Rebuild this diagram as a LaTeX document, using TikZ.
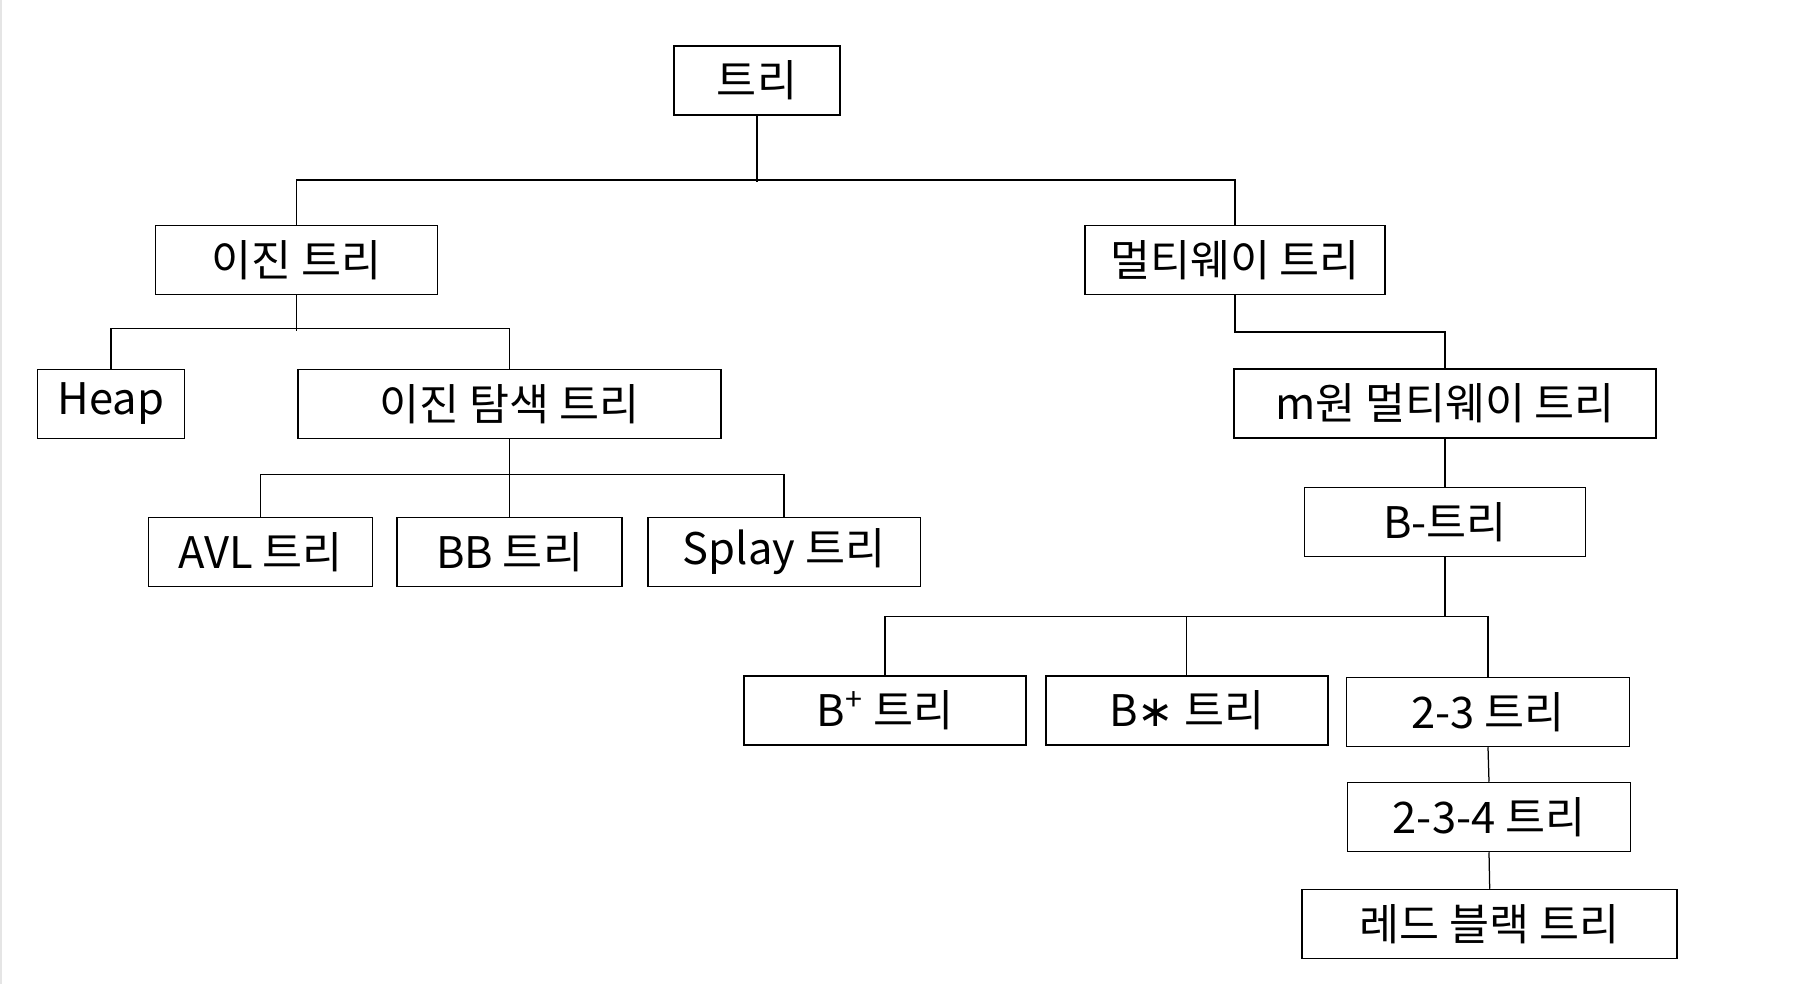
\documentclass[tikz,border=0pt]{standalone}
\usepackage{fontspec}
\setmainfont{Noto Sans CJK KR}
\newfontfamily\dejavu{DejaVu Sans}
\begin{document}
\begin{tikzpicture}[x=0.4pt,y=-0.4pt,
  box/.style={draw=black,line width=0.6pt,minimum height=27.6pt,inner sep=0pt,
    font=\fontsize{17.4}{17.4}\selectfont,fill=white},
  conn/.style={draw=black,line width=0.5pt}]
\useasboundingbox[fill=white] (0,0) rectangle (1820,984);
\draw[gray!20,line width=1pt] (1,0) -- (1,984);
% nodes
\node[box,minimum width=66.4pt]  (root) at (757,80.5) {트리};
\node[box,minimum width=112.8pt] (bin)  at (296.6,260) {이진 트리};
\node[box,minimum width=120pt]   (multi) at (1235,260) {멀티웨이 트리};
\node[box,minimum width=58.6pt]  (heap) at (111,404) {Heap};
\node[box,minimum width=169.2pt] (bst)  at (509.6,404) {이진 탐색 트리};
\node[box,minimum width=168.8pt] (mway) at (1445,403.5) {m원 멀티웨이 트리};
\node[box,minimum width=112.4pt] (btree) at (1445,521.8) {B-트리};
\node[box,minimum width=89.6pt]  (avl)  at (260.6,552) {AVL 트리};
\node[box,minimum width=90pt]    (bb)   at (509.6,552) {BB 트리};
\node[box,minimum width=109pt]   (splay) at (784,552) {Splay 트리};
\node[box,minimum width=112.8pt] (bplus) at (885,710.3) {B\textsuperscript{+} 트리};
\node[box,minimum width=112.8pt] (bstar) at (1186.8,710.3) {B{\dejavu ∗} 트리};
\node[box,minimum width=113.2pt] (two3) at (1488,712) {2-3 트리};
\node[box,minimum width=113.2pt] (two34) at (1489,817) {2-3-4 트리};
\node[box,minimum width=150pt]   (rb)   at (1489.7,924) {레드 블랙 트리};
% junctions
\coordinate (jr) at (757,180);
\coordinate (jb) at (296.6,328.5);
\coordinate (js) at (509.6,474.7);
\coordinate (jm) at (1235,332);
\coordinate (jt) at (1445,616.3);
% connectors
\draw[conn] (root.south) -- ([yshift=-1pt]jr);
\draw[conn] (bin.north) |- (jr) -| (multi.north);
\draw[conn] (bin.south) -- ([yshift=-1pt]jb);
\draw[conn] (heap.north) |- (jb) -| (bst.north);
\draw[conn] (bst.south) -- (js);
\draw[conn] (avl.north) |- (js) -| (splay.north);
\draw[conn] (js) -- (bb.north);
\draw[conn] (multi.south) -- (jm) -| (mway.north);
\draw[conn] (mway.south) -- (btree.north);
\draw[conn,line width=0.8pt] (btree.south) -- (jt);
\draw[conn] (bplus.north) |- (jt) -| (two3.north);
\draw[conn] (bstar.north) -- (bstar.north |- jt);
\draw[conn] (two3.south) -- (two34.north);
\draw[conn] (two34.south) -- (rb.north);
\end{tikzpicture}
\end{document}
